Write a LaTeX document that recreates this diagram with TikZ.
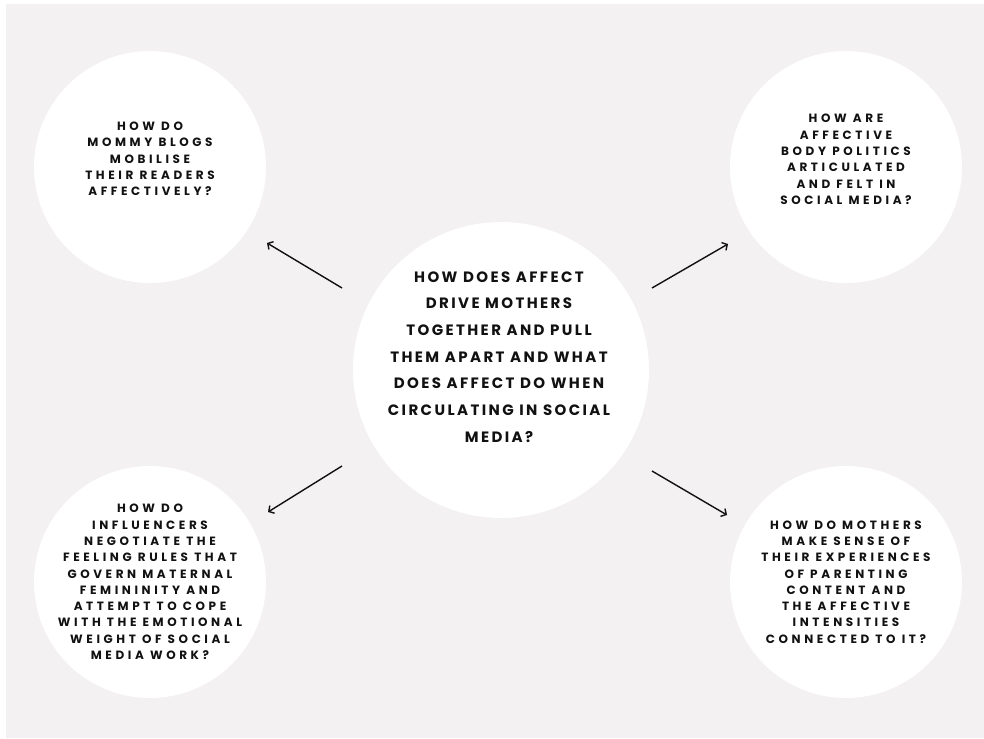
\documentclass[tikz,border=0pt]{standalone}
\usepackage{fontspec}
\newfontfamily\qfont{Poppins Bold}[LetterSpace=30]
\newfontfamily\cfont{Poppins Bold}[LetterSpace=16]
\usetikzlibrary{arrows.meta}
\definecolor{bggrey}{HTML}{F3F1F1}
\definecolor{ink}{HTML}{111111}
\begin{document}
\begin{tikzpicture}[x=1pt,y=-1pt,
  bubble/.style={circle,fill=white,inner sep=0pt,minimum size=#1},
  qtext/.style={align=center,text=ink,inner sep=0pt,font=\qfont\fontsize{12}{16.3}\selectfont},
  ctext/.style={align=center,text=ink,inner sep=0pt,font=\cfont\fontsize{15}{26.7}\selectfont},
  conn/.style={draw=ink,line width=1.4pt,-{Straight Barb[length=4pt,width=9pt,line width=1.4pt]}}]
\useasboundingbox (0,0) rectangle (984,738);
\fill[white] (0,0) rectangle (984,738);
\fill[bggrey] (6,4) rectangle (984,738);
% circles
\node[bubble=232pt] (tl) at (150,167) {};
\node[bubble=232pt] (tr) at (846,167) {};
\node[bubble=296pt] (c) at (501,370) {};
\node[bubble=232pt] (bl) at (150,582) {};
\node[bubble=232pt] (br) at (846,582) {};
% texts
\node[qtext] (tlt) at (150,159) {HOW DO\\MOMMY BLOGS\\MOBILISE\\THEIR READERS\\AFFECTIVELY?};
\node[qtext] (trt) at (846,159.5) {HOW ARE\\AFFECTIVE\\BODY POLITICS\\ARTICULATED\\AND FELT IN\\SOCIAL MEDIA?};
\node[ctext] (ct) at (499,357) {HOW DOES AFFECT\\DRIVE MOTHERS\\TOGETHER AND PULL\\THEM APART AND WHAT\\DOES AFFECT DO WHEN\\CIRCULATING IN SOCIAL\\MEDIA?};
\node[qtext] (blt) at (150,582) {HOW DO\\INFLUENCERS\\NEGOTIATE THE\\FEELING RULES THAT\\GOVERN MATERNAL\\FEMININITY AND\\ATTEMPT TO COPE\\WITH THE EMOTIONAL\\WEIGHT OF SOCIAL\\MEDIA WORK?};
\node[qtext] (brt) at (846,582) {HOW DO MOTHERS\\MAKE SENSE OF\\THEIR EXPERIENCES\\OF PARENTING\\CONTENT AND\\THE AFFECTIVE\\INTENSITIES\\CONNECTED TO IT?};
% arrow ends
\coordinate (a1s) at (342,288); \coordinate (a1e) at (267,243);
\coordinate (a2s) at (652,288); \coordinate (a2e) at (728,244);
\coordinate (a3s) at (342,466); \coordinate (a3e) at (268,512);
\coordinate (a4s) at (652,471); \coordinate (a4e) at (727,515);
\draw[conn] (a1s) -- (a1e);
\draw[conn] (a2s) -- (a2e);
\draw[conn] (a3s) -- (a3e);
\draw[conn] (a4s) -- (a4e);
\end{tikzpicture}
\end{document}
